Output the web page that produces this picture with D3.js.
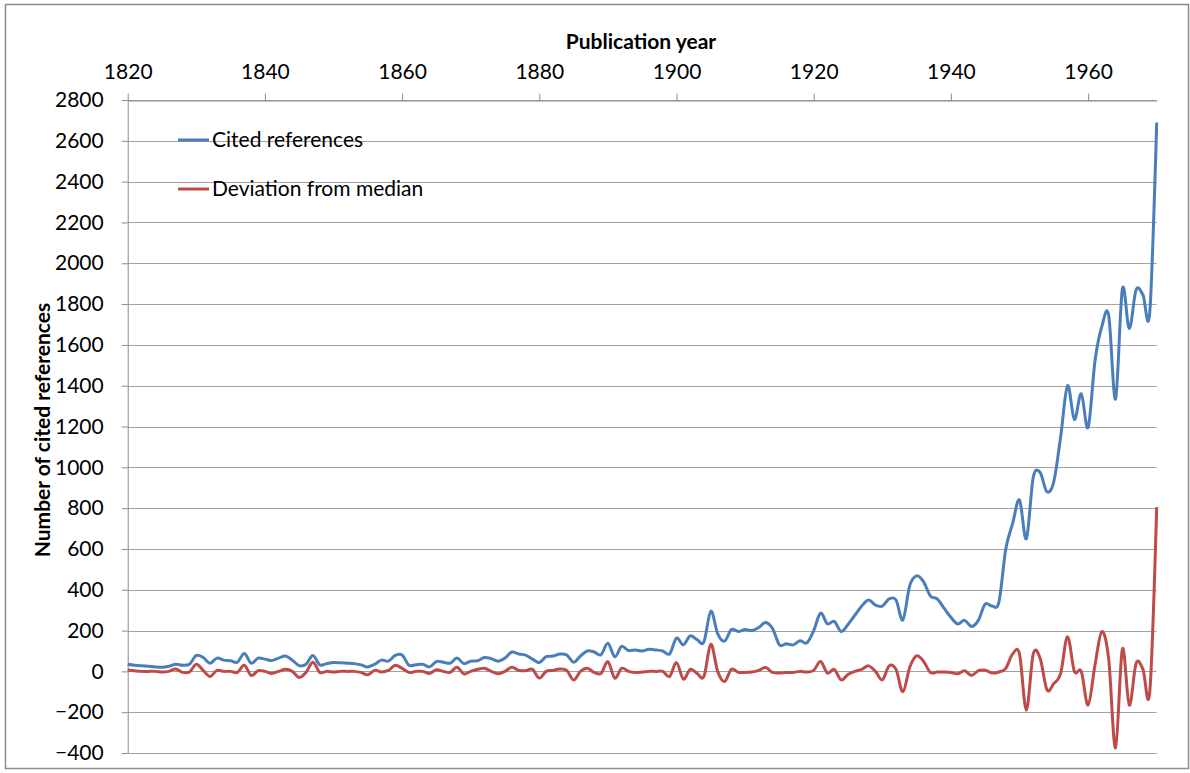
<!DOCTYPE html>
<html>
<head>
<meta charset="utf-8">
<script src="https://cdn.jsdelivr.net/npm/d3@7"></script>
<style>
  html, body { margin: 0; padding: 0; background: #fff; }
  svg { display: block; font-family: Lato, "Open Sans", sans-serif; }
</style>
</head>
<body>
<svg id="chart" width="1190" height="773"></svg>
<script>
// ---- data ----
const years = d3.range(1820, 1971);
const citedReferences = [
  35, 30, 27, 25, 22, 20, 25, 35, 30, 35,            // 1820-1829
  78, 68, 40, 65, 55, 52, 45, 88, 40, 65,            // 1830-1839
  60, 53, 65, 75, 55, 28, 35, 78, 32, 38,            // 1840-1849
  43, 42, 40, 38, 32, 22, 35, 55, 50, 78,            // 1850-1859
  80, 30, 33, 35, 22, 48, 45, 40, 65, 38,            // 1860-1869
  50, 52, 68, 62, 50, 65, 95, 85, 80, 60,            // 1870-1879
  43, 72, 75, 85, 80, 45, 75, 100, 95, 82,           // 1880-1889
  138, 72, 122, 102, 105, 100, 108, 105, 100, 86,    // 1890-1899
  163, 130, 174, 155, 145, 295, 185, 148, 205, 195,  // 1900-1909
  205, 200, 215, 240, 210, 130, 135, 130, 150, 140,  // 1910-1919
  200, 285, 233, 245, 195, 230, 275, 320, 350, 325,  // 1920-1929
  320, 355, 350, 252, 420, 468, 440, 370, 355, 310,  // 1930-1939
  265, 232, 250, 220, 250, 330, 320, 340, 600, 725,  // 1940-1949
  840, 650, 950, 975, 880, 930, 1150, 1400, 1235, 1360, // 1950-1959
  1195, 1520, 1690, 1745, 1335, 1875, 1680, 1870, 1845, 1765, // 1960-1969
  2690                                                 // 1970
];
const deviationFromMedian = [
  7, 3, 0, 0, 0, -3, 0, 12, -5, -3,                  // 1820-1829
  35, 5, -25, 5, 0, 0, -5, 30, -20, 3,               // 1830-1839
  0, -10, 0, 10, 0, -30, -5, 45, -5, 0,              // 1840-1849
  -3, 0, 0, 0, -5, -17, 5, -3, 5, 30,                // 1850-1859
  15, -5, 0, 0, -10, 8, 0, -5, 20, -12,              // 1860-1869
  0, 10, 15, 0, -12, 0, 20, 5, 3, 10,                // 1870-1879
  -33, 0, 5, 12, 5, -42, 0, 15, -5, -10,             // 1880-1889
  48, -33, 15, 0, -5, -3, 0, 0, 0, -25,              // 1890-1899
  43, -38, 10, -10, -25, 133, 0, -50, 10, -5,        // 1900-1909
  -5, -3, 5, 19, -5, -8, -5, -5, 0, -3,              // 1910-1919
  5, 48, -8, 10, -42, -15, 0, 10, 27, 0,             // 1920-1929
  -42, 27, 10, -100, 20, 76, 50, -5, -3, -3,         // 1930-1939
  -5, -12, 3, -20, 3, 5, -8, -3, 15, 85,             // 1940-1949
  85, -190, 85, 65, -90, -60, -10, 170, 0, 0,        // 1950-1959
  -165, 30, 195, 60, -375, 110, -165, 40, 10, -95,   // 1960-1969
  805                                                // 1970
];
const xTickValues = [1820, 1840, 1860, 1880, 1900, 1920, 1940, 1960];
const yTickValues = d3.range(-400, 2801, 200);
const seriesNames = ["Cited references", "Deviation from median"];
const seriesColors = ["#4a7ebb", "#be4b48"];

// ---- layout ----
const svg = d3.select("#chart");
const plot = { left: 127.7, right: 1156.7, top: 100, bottom: 753 };
const x = d3.scaleLinear().domain([1820, 1970]).range([plot.left, plot.right]);
const y = d3.scaleLinear().domain([-400, 2800]).range([plot.bottom, plot.top]);
const fontSize = 21;

// outer border
svg.append("rect")
  .attr("x", 5.5).attr("y", 4.5).attr("width", 1183).attr("height", 764)
  .attr("fill", "none").attr("stroke", "#8c8c8c").attr("stroke-width", 1.5);

// gridlines
svg.append("g")
  .selectAll("line")
  .data(yTickValues)
  .join("line")
  .attr("x1", plot.left).attr("x2", plot.right)
  .attr("y1", d => Math.round(y(d)) + 0.5).attr("y2", d => Math.round(y(d)) + 0.5)
  .attr("stroke", "#a2a2a2").attr("stroke-width", 1);

// x axis on top
const xAxis = svg.append("g")
  .attr("transform", `translate(0,${plot.top + 0.5})`)
  .call(d3.axisTop(x).tickValues(xTickValues).tickFormat(d3.format("d"))
        .tickSize(7).tickPadding(15).tickSizeOuter(0));
xAxis.select(".domain").attr("stroke", "#8c8c8c");
xAxis.selectAll(".tick line").attr("stroke", "#8c8c8c");
xAxis.selectAll("text").attr("font-size", fontSize).attr("fill", "#000")
  .attr("font-family", "Lato, 'Open Sans', sans-serif");

// y axis
const yAxis = svg.append("g")
  .attr("transform", `translate(${plot.left},0)`)
  .call(d3.axisLeft(y).tickValues(yTickValues).tickFormat(d3.format("d"))
        .tickSize(6).tickPadding(18).tickSizeOuter(0));
yAxis.select(".domain").attr("stroke", "#8c8c8c");
yAxis.selectAll(".tick line").attr("stroke", "#8c8c8c");
yAxis.selectAll("text").attr("font-size", fontSize).attr("fill", "#000")
  .attr("font-family", "Lato, 'Open Sans', sans-serif");

// axis titles
svg.append("text")
  .attr("x", 641).attr("y", 49)
  .attr("text-anchor", "middle").attr("font-size", fontSize).attr("font-weight", "bold")
  .text("Publication year");
svg.append("text")
  .attr("transform", "translate(50,430) rotate(-90)")
  .attr("text-anchor", "middle").attr("font-size", fontSize).attr("font-weight", "bold")
  .text("Number of cited references");

// lines
const line = d3.line()
  .x((d, i) => x(years[i]))
  .y(d => y(d))
  .curve(d3.curveCardinal.tension(0));

[citedReferences, deviationFromMedian].forEach((series, k) => {
  svg.append("path")
    .datum(series)
    .attr("d", line)
    .attr("fill", "none")
    .attr("stroke", seriesColors[k])
    .attr("stroke-width", 3)
    .attr("stroke-linejoin", "round");
});

// legend
const legend = svg.append("g");
seriesNames.forEach((name, k) => {
  const ly = 140 + k * 49;
  legend.append("line")
    .attr("x1", 178).attr("x2", 209).attr("y1", ly).attr("y2", ly)
    .attr("stroke", seriesColors[k]).attr("stroke-width", 3);
  legend.append("text")
    .attr("x", 212).attr("y", ly).attr("dy", "0.35em")
    .attr("font-size", fontSize).attr("fill", "#000")
    .text(name);
});
</script>
</body>
</html>
